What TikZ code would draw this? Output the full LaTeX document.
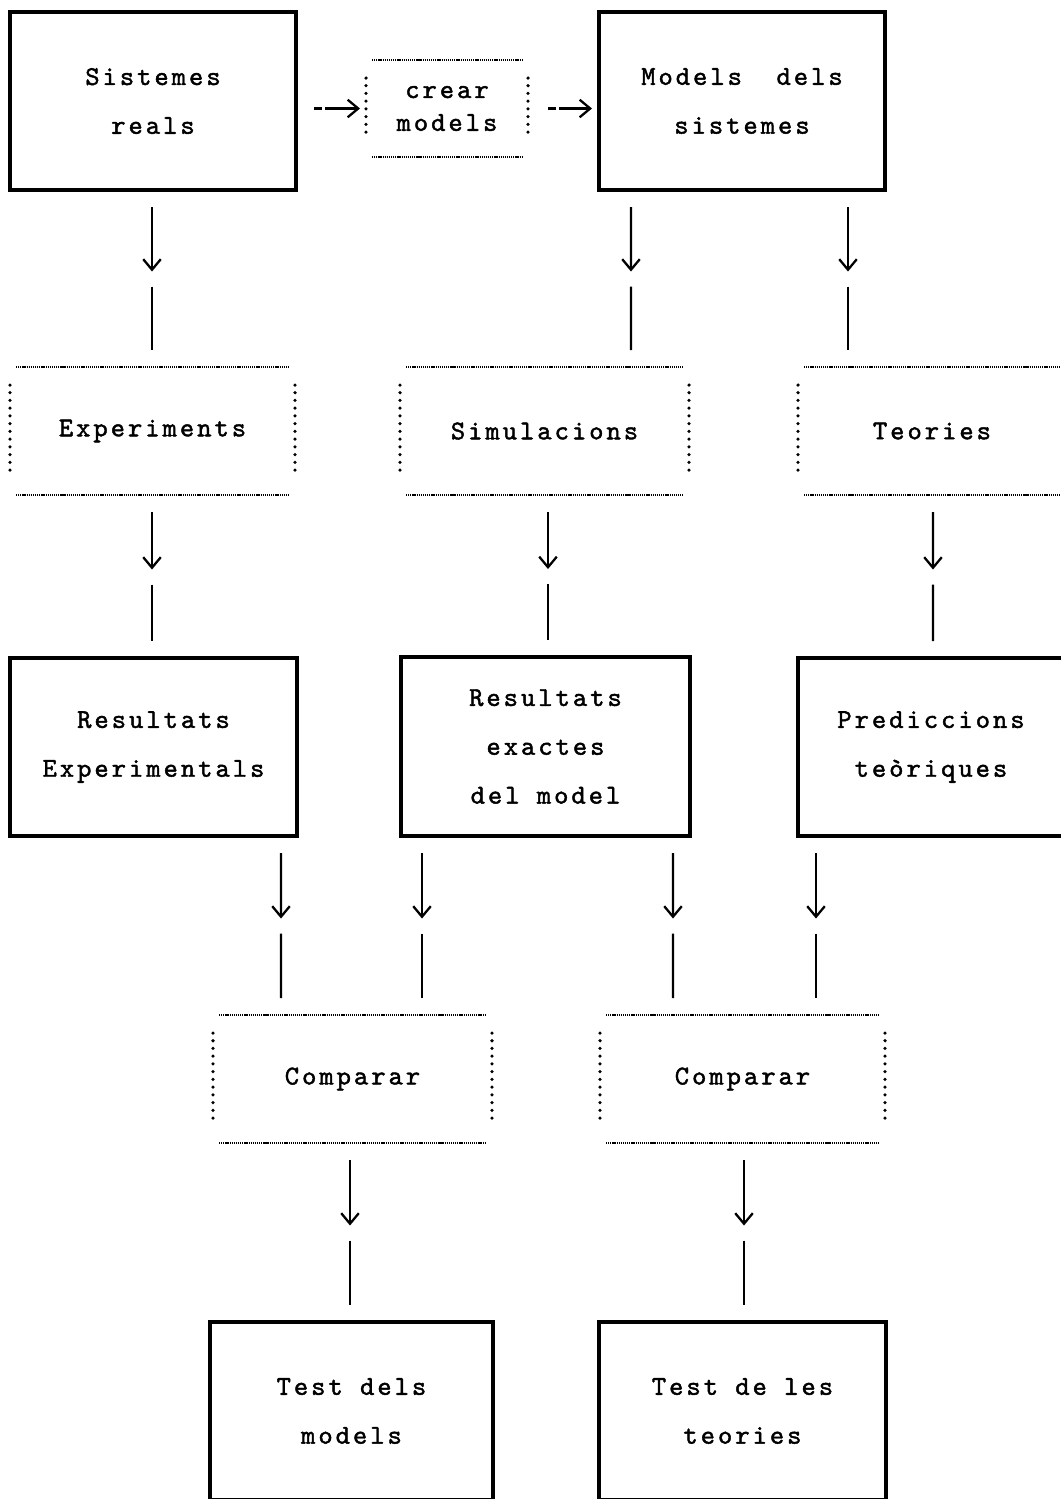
\documentclass[tikz,border=0pt]{standalone}
\usepackage{fontspec}
\newfontfamily\typewriter[LetterSpace=11,FakeBold=1.6]{lmmono10-regular.otf}
\usetikzlibrary{arrows.meta, calc}
\newlength{\pu}
\setlength{\pu}{0.02cm}
\tikzset{
  txt/.style    = {align=center, inner sep=0pt, outer sep=0pt,
                   font=\typewriter\fontsize{15.5pt}{27.8pt}\selectfont},
  solidbox/.style = {txt, draw, line width=2.2pt, minimum width=286\pu,
                   minimum height=178\pu},
  dotbox/.style = {txt, minimum width=285\pu, minimum height=128\pu},
  hdots/.style  = {line width=1.1pt, dash pattern=on 0.7pt off 0.5pt},
  vdots/.style  = {line width=2pt, line cap=round,
                   dash pattern=on 0pt off 4.4pt},
  flow/.style   = {-{Straight Barb[length=6pt,width=10pt]}, line width=1.3pt},
  stem/.style   = {line width=1.3pt},
  dflow/.style  = {flow, dash pattern=on 4.5pt off 2pt on 40pt},
}
\begin{document}
\begin{tikzpicture}[x=0.02cm, y=-0.02cm]
  \clip (0,0) rectangle (1061,1499);

  %% ---------------- top row ----------------
  \node[solidbox] (sis) at (153,101) {Sistemes\\reals};
  \node[solidbox] (mod) at (742,101) {Models~~dels\\sistemes};
  \node[dotbox, minimum width=162\pu, minimum height=97\pu,
        font=\typewriter\fontsize{15.5pt}{18.7pt}\selectfont]
       (crear) at (447,108.5) {crear\\models};

  \draw[dflow] ($(sis.east |- crear.west)+(18,0)$) -- ($(crear.west)+(-6,0)$);
  \draw[dflow] ($(crear.east)+(20,0)$) -- ($(mod.west |- crear.east)+(-7,0)$);

  %% ---------------- methods ----------------
  \node[dotbox] (expe) at (152.5,431) {Experiments};
  \node[dotbox, minimum width=289\pu] (simu) at (544.5,431) {Simulacions};
  \node[dotbox, minimum width=268\pu] (teor) at (932,431) {Teories};

  %% ---------------- results ----------------
  \node[solidbox, minimum width=287\pu] (resE) at (153.5,747)
       {Resultats\\Experimentals};
  \node[solidbox, minimum width=289\pu, minimum height=179\pu] (resM)
       at (545.5,746.5) {Resultats\\exactes\\del model};
  \node[solidbox, minimum width=266\pu] (pred) at (931,747)
       {Prediccions\\teòriques};

  %% ---------------- comparisons and tests ----------------
  \node[dotbox, minimum width=279\pu] (cmpA) at (352.5,1079) {Comparar};
  \node[dotbox] (cmpB) at (742.5,1079) {Comparar};

  \node[solidbox, minimum width=283\pu] (testM) at (351.5,1411)
       {Test dels\\models};
  \node[solidbox, minimum width=287\pu] (testT) at (742.5,1411)
       {Test de les\\teories};

  %% dotted frames: thin lines above and below, dots at the sides
  \foreach \n in {crear, expe, simu, teor, cmpA, cmpB} {
    \draw[hdots] ($(\n.north west)+(6,0)$) -- ($(\n.north east)+(-6,0)$);
    \draw[hdots] ($(\n.south west)+(6,0)$) -- ($(\n.south east)+(-6,0)$);
    \draw[vdots] ($(\n.north west)+(0,18)$) -- ($(\n.south west)+(0,-18)$);
    \draw[vdots] ($(\n.north east)+(0,18)$) -- ($(\n.south east)+(0,-18)$);
  }

  %% arrow, gap, then the rest of the line
  \foreach \from/\to/\col in {sis/expe/152, mod/simu/631, mod/teor/848,
                              expe/resE/152, simu/resM/548, teor/pred/933,
                              resE/cmpA/281, resM/cmpA/422, resM/cmpB/673,
                              pred/cmpB/816, cmpA/testM/350, cmpB/testT/744} {
    \coordinate (lnk-a) at ($(\from.south -| \col,0)+(0,17)$);
    \coordinate (lnk-b) at ($(\to.north -| \col,0)+(0,-17)$);
    \draw[flow] (lnk-a) -- ($(lnk-a)!0.5!(lnk-b)+(0,-7)$);
    \draw[stem] ($(lnk-a)!0.5!(lnk-b)+(0,8)$) -- (lnk-b);
  }
\end{tikzpicture}
\end{document}
